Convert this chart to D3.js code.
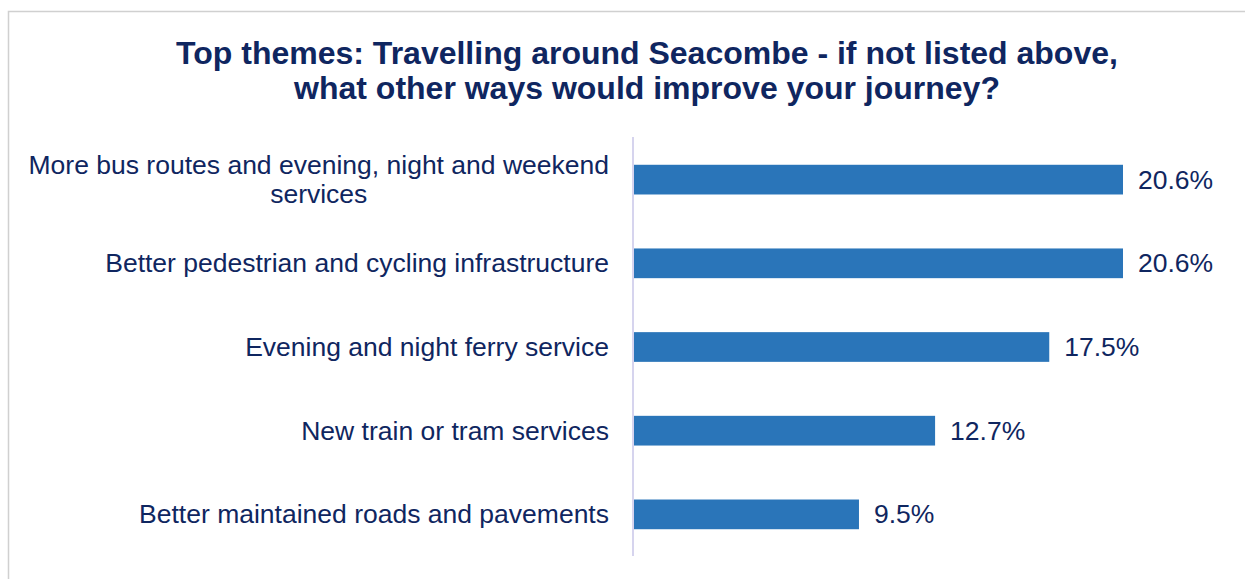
<!DOCTYPE html>
<html>
<head>
<meta charset="utf-8">
<script src="https://cdn.jsdelivr.net/npm/d3@7"></script>
<style>
  body { margin: 0; background: #fff; }
  svg { display: block; font-family: "Liberation Sans", Arial, sans-serif; }
</style>
</head>
<body>
<div class="chart-div"></div>
<script>
var width = 1245;
var height = 579;

var categories = [
  ["More bus routes and evening, night and weekend", "services"],
  ["Better pedestrian and cycling infrastructure"],
  ["Evening and night ferry service"],
  ["New train or tram services"],
  ["Better maintained roads and pavements"]
];
var values = [20.6, 20.6, 17.5, 12.7, 9.5];
var titleLines = [
  "Top themes: Travelling around Seacombe - if not listed above,",
  "what other ways would improve your journey?"
];

var textColor = "#0f2660";
var barColor = "#2a75b9";

var svg = d3.select(".chart-div")
  .append("svg")
    .attr("width", width)
    .attr("height", height);

//outer frame, runs off the right and bottom edge
svg.append("rect")
  .attr("x", 8.5)
  .attr("y", 11.5)
  .attr("width", 1260)
  .attr("height", 600)
  .attr("fill", "#fff")
  .attr("stroke", "#d0d0d0")
  .attr("stroke-width", 1.5);

//title
svg.append("text")
  .attr("x", 647)
  .attr("y", 64)
  .attr("text-anchor", "middle")
  .attr("font-weight", "bold")
  .attr("font-size", "32px")
  .attr("fill", textColor)
  .selectAll("tspan")
  .data(titleLines)
  .join("tspan")
    .attr("x", 647)
    .attr("dy", function(d, i) { return i === 0 ? 0 : 35; })
    .text(function(d) { return d; });

var axisX = 633;
var x = d3.scaleLinear()
  .domain([0, 20.6])
  .range([axisX, 1123]);

var y = d3.scaleBand()
  .domain(d3.range(values.length))
  .range([138, 556])
  .paddingInner(0.645)
  .paddingOuter(0.32);

//bars
svg.selectAll(".bar")
  .data(values)
  .join("rect")
    .attr("class", "bar")
    .attr("x", x(0))
    .attr("y", function(d, i) { return y(i); })
    .attr("width", function(d) { return x(d) - x(0); })
    .attr("height", y.bandwidth())
    .attr("fill", barColor);

//vertical axis line
svg.append("line")
  .attr("x1", axisX)
  .attr("x2", axisX)
  .attr("y1", 137)
  .attr("y2", 556)
  .attr("stroke", "#d6d4ee")
  .attr("stroke-width", 2);

//category labels
svg.selectAll(".cat")
  .data(categories)
  .join("text")
    .attr("class", "cat")
    .attr("text-anchor", "middle")
    .attr("font-size", "26.5px")
    .attr("fill", textColor)
    .each(function(d, i) {
      var cy = y(i) + y.bandwidth() / 2;
      var start = cy - (d.length - 1) * 29 / 2 + 9;
      var t = d3.select(this);
      var w = 0;
      d.forEach(function(line, j) {
        t.append("tspan")
          .attr("y", start + j * 29)
          .text(line);
      });
      //right align the block, centre the lines inside it
      t.selectAll("tspan").each(function() {
        w = Math.max(w, this.getComputedTextLength());
      });
      t.selectAll("tspan").attr("x", 609 - w / 2);
    });

//value labels
svg.selectAll(".val")
  .data(values)
  .join("text")
    .attr("class", "val")
    .attr("x", function(d) { return x(d) + 15; })
    .attr("y", function(d, i) { return y(i) + y.bandwidth() / 2 + 9; })
    .attr("font-size", "26.5px")
    .attr("fill", textColor)
    .text(function(d) { return d.toFixed(1) + "%"; });
</script>
</body>
</html>
